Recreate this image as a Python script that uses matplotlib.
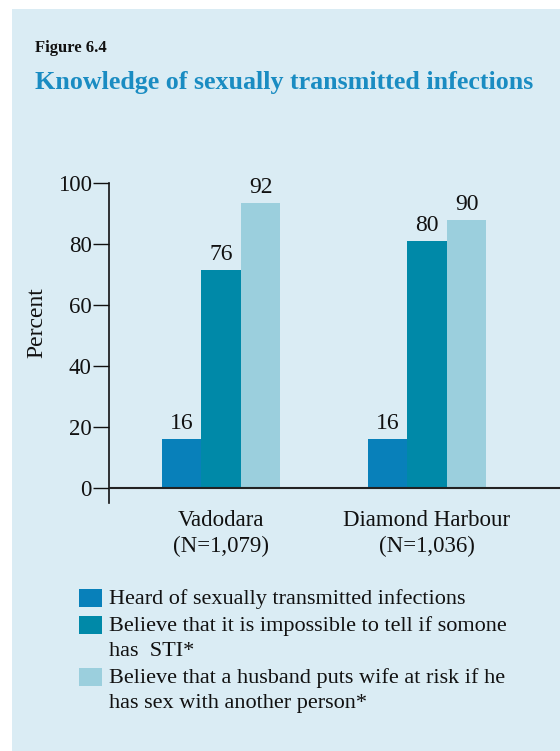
import matplotlib.pyplot as plt
from matplotlib.patches import Rectangle
import numpy as np

plt.rcParams['font.family'] = ['Liberation Serif', 'DejaVu Serif']

# data
places = ['Vadodara\n(N=1,079)', 'Diamond Harbour\n(N=1,036)']
series = ['Heard of sexually transmitted infections',
          'Believe that it is impossible to tell if somone\nhas  STI*',
          'Believe that a husband puts wife at risk if he\nhas sex with another person*']
# bar heights as drawn in the figure, and the printed values
heights = [[16, 16], [71.5, 81], [93.5, 88]]
values = [[16, 16], [76, 80], [92, 90]]
colours = ['#0880BA', '#0089A8', '#9BCFDD']
yticks = [0, 20, 40, 60, 80, 100]

W, H = 560, 751
fig = plt.figure(figsize=(W / 100, H / 100), dpi=100)
fig.patch.set_facecolor('white')


def fx(x):
    return x / W


def fy(y):
    return 1 - y / H


# light blue panel
fig.patches.append(Rectangle((fx(12), 0), 1 - fx(12), fy(9), transform=fig.transFigure,
                             facecolor='#DAECF4', edgecolor='none', zorder=-5))

fig.text(fx(35), fy(48), 'Figure 6.4', fontsize=12, fontweight='bold', color='#111111', va='center')
fig.text(fx(35), fy(83), 'Knowledge of sexually transmitted infections', fontsize=18.7,
         fontweight='bold', color='#1A8CC2', va='center')

ax = fig.add_axes([fx(109), fy(503), 1 - fx(109), fy(183) - fy(503)])
ax.set_facecolor('none')
ax.set_zorder(2)

x = np.arange(len(places))
w = 0.192
for j in range(len(series)):
    pos = x + (j - 1) * w
    ax.bar(pos, heights[j], width=w, color=colours[j], zorder=2)
    for p, h, v in zip(pos, heights[j], values[j]):
        ax.annotate(str(v), (p, h), xytext=(0, 3.5), textcoords='offset points',
                    ha='center', va='bottom', fontsize=17, color='#111111')

ax.axhline(0, color='#222222', lw=1.5, zorder=3)
ax.set_ylim(-5, 100)
ax.set_xlim(-0.544, 1.646)
ax.set_yticks(yticks)
ax.tick_params(axis='y', length=11.5, width=1, pad=1, labelsize=16.5, colors='#111111')
ax.set_xticks(x)
ax.set_xticklabels(places, fontsize=16.5, color='#111111', linespacing=1.3)
ax.tick_params(axis='x', length=0, pad=5)
for s in ['top', 'right', 'bottom']:
    ax.spines[s].set_visible(False)
ax.spines['left'].set_color('#111111')
ax.spines['left'].set_linewidth(1.2)
ax.set_ylabel('Percent', fontsize=17, color='#111111')
ax.yaxis.set_label_coords(-0.137, 0.5625)

# legend
tops = [589, 616, 668]
for j, lab in enumerate(series):
    fig.patches.append(Rectangle((fx(79), fy(tops[j] + 18)), fx(23), fy(0) - fy(18),
                                 transform=fig.transFigure, facecolor=colours[j],
                                 edgecolor='none'))
    fig.text(fx(109), fy(tops[j]), lab, fontsize=16, color='#111111', va='top',
             linespacing=1.45)

fig.savefig('out.png', dpi=100)
